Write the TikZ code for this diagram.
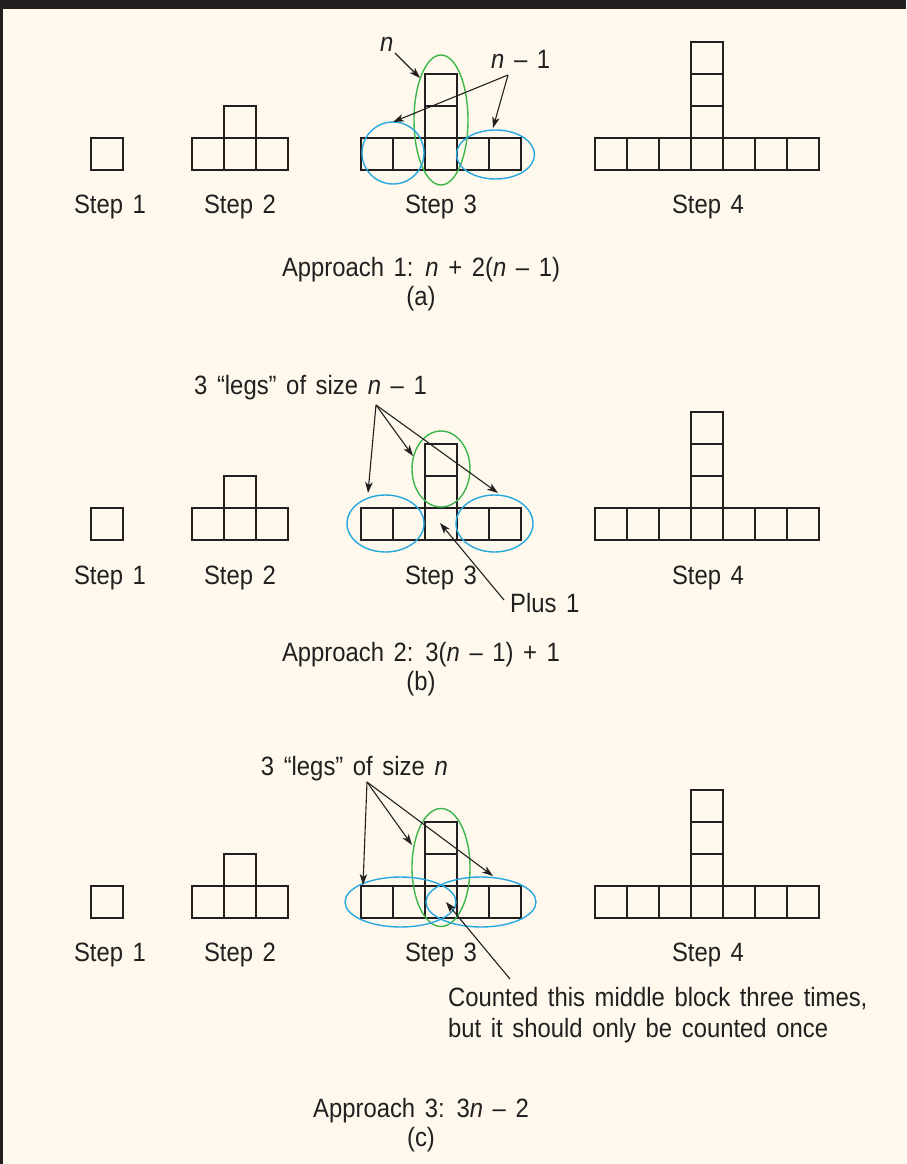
\documentclass[tikz,border=0pt]{standalone}
\usepackage{fontspec}
\setmainfont{Liberation Sans}[FakeStretch=0.9,WordSpace=1.45]
\usetikzlibrary{arrows.meta}
\definecolor{ink}{HTML}{231F20}
\definecolor{bgc}{HTML}{FEF9EC}
\definecolor{grn}{HTML}{3DB54A}
\definecolor{blu}{HTML}{29A8E0}
\tikzset{
  sq/.style={draw=ink, line width=1.6pt},
  lbl/.style={text=ink, inner sep=0pt, font=\fontsize{26.5}{31}\selectfont},
  arr/.style={draw=ink, line width=1.1pt, -{Stealth[length=11pt,width=7.5pt,inset=3pt]}},
  gel/.style={draw=grn, line width=1.4pt},
  bel/.style={draw=blu, line width=1.4pt},
}
\newcommand\panelsq[1]{%
  % Step 1
  \draw[sq] (91,#1) rectangle ++(32,32);
  % Step 2
  \foreach \x in {192,224,256} {\draw[sq] (\x,#1) rectangle ++(32,32);}
  \draw[sq] (224,#1-32) rectangle ++(32,32);
  % Step 3
  \foreach \x in {361,393,425,457,489} {\draw[sq] (\x,#1) rectangle ++(32,32);}
  \foreach \k in {1,2} {\draw[sq] (425,#1-32*\k) rectangle ++(32,32);}
  % Step 4
  \foreach \x in {595,627,659,691,723,755,787} {\draw[sq] (\x,#1) rectangle ++(32,32);}
  \foreach \k in {1,2,3} {\draw[sq] (691,#1-32*\k) rectangle ++(32,32);}
}
\begin{document}
\begin{tikzpicture}[x=1pt,y=-1pt]
\fill[bgc] (0,0) rectangle (906,1164);
\useasboundingbox (0,0) rectangle (906,1164);
\fill[ink] (0,0) rectangle (906,9);
\fill[ink] (0,0) rectangle (3,1164);

% ================= Panel (a) =================
\panelsq{138}
\foreach \x/\s/\nm in {110/1/a1,240/2/a2,441/3/a3,708/4/a4}
  {\node[lbl, anchor=base] (s\nm) at (\x,213) {Step \s};}
\draw[gel] (441,120) ellipse [x radius=27pt, y radius=65pt];
\draw[bel] (393,153) ellipse [x radius=31pt, y radius=31pt];
\draw[bel] (495.5,154.5) ellipse [x radius=39pt, y radius=24.5pt];
\node[lbl, anchor=base west] (ln) at (380,52) {\textit{n}};
\node[lbl, anchor=base west] (lnm) at (491,68) {\textit{n} – 1};
\coordinate (pn0) at (395,53);
\coordinate (pn1) at (420,78);
\draw[arr] (pn0) -- (pn1);
\coordinate (pm0) at (508,75);
\coordinate (pm1) at (393,122);
\coordinate (pm2) at (493,128);
\draw[arr] (pm0) -- (pm1);
\draw[arr] (pm0) -- (pm2);
\node[lbl, anchor=base] (appa) at (421,276) {Approach 1: \textit{n} + 2(\textit{n} – 1)};
\node[lbl, anchor=base] (capa) at (421,305) {(a)};

% ================= Panel (b) =================
\panelsq{508}
\foreach \x/\s/\nm in {110/1/b1,240/2/b2,441/3/b3,708/4/b4}
  {\node[lbl, anchor=base] (s\nm) at (\x,584) {Step \s};}
\draw[gel] (441,469) ellipse [x radius=29pt, y radius=38pt];
\draw[bel] (385.5,523.5) ellipse [x radius=38.5pt, y radius=28.5pt];
\draw[bel] (494.5,523.5) ellipse [x radius=38.5pt, y radius=28.5pt];
\node[lbl, anchor=base east] (legsb) at (427,394) {3 “legs” of size \textit{n} – 1};
\coordinate (pb0) at (376,405);
\coordinate (pb1) at (368,493);
\coordinate (pb2) at (413,456);
\coordinate (pb3) at (498,493);
\draw[arr] (pb0) -- (pb1);
\draw[arr] (pb0) -- (pb2);
\draw[arr] (pb0) -- (pb3);
\node[lbl, anchor=base west] (plus) at (510,612) {Plus 1};
\coordinate (pp0) at (504,600);
\coordinate (pp1) at (440,523);
\draw[arr] (pp0) -- (pp1);
\node[lbl, anchor=base] (appb) at (421,661) {Approach 2: 3(\textit{n} – 1) + 1};
\node[lbl, anchor=base] (capb) at (421,690) {(b)};

% ================= Panel (c) =================
\panelsq{886}
\foreach \x/\s/\nm in {110/1/c1,240/2/c2,441/3/c3,708/4/c4}
  {\node[lbl, anchor=base] (s\nm) at (\x,961) {Step \s};}
\draw[gel] (441,867.5) ellipse [x radius=29pt, y radius=59pt];
\draw[bel] (400.5,902) ellipse [x radius=55.5pt, y radius=25pt];
\draw[bel] (481,902) ellipse [x radius=55pt, y radius=25pt];
\node[lbl, anchor=base east] (legsc) at (448,775) {3 “legs” of size \textit{n}};
\coordinate (pc0) at (367,782);
\coordinate (pc1) at (363,885);
\coordinate (pc2) at (412,845);
\coordinate (pc3) at (493,876);
\draw[arr] (pc0) -- (pc1);
\draw[arr] (pc0) -- (pc2);
\draw[arr] (pc0) -- (pc3);
\node[lbl, anchor=base west] (cnt1) at (448,1006) {Counted this middle block three times,};
\node[lbl, anchor=base west] (cnt2) at (448,1037) {but it should only be counted once};
\coordinate (pt0) at (510,979);
\coordinate (pt1) at (446,902);
\draw[arr] (pt0) -- (pt1);
\node[lbl, anchor=base] (appc) at (421,1117) {Approach 3: 3\textit{n} – 2};
\node[lbl, anchor=base] (capc) at (421,1146) {(c)};
\end{tikzpicture}
\end{document}
